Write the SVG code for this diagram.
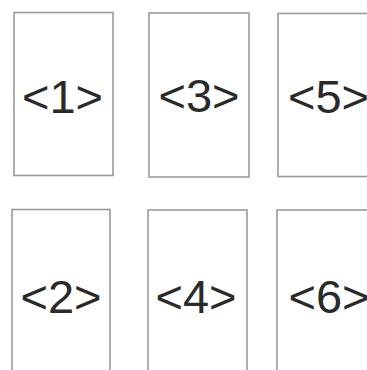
<svg xmlns="http://www.w3.org/2000/svg" width="367" height="370" viewBox="0 0 367 370">
<style>
.box{fill:#fff;stroke:#9a9a9a;stroke-width:1.6}
.lbl{font-family:"Liberation Sans",Arial,sans-serif;font-size:47px;fill:#2a2a2a;text-anchor:middle}
</style>
<rect width="367" height="370" fill="#fff"/>
<g id="node1"><rect class="box" x="14" y="12.5" width="99" height="163"/><text class="lbl" x="62.5" y="113">&lt;1&gt;</text></g>
<g id="node2"><rect class="box" x="12" y="209.5" width="98" height="170"/><text class="lbl" x="61" y="313">&lt;2&gt;</text></g>
<g id="node3"><rect class="box" x="149" y="13" width="100" height="164"/><text class="lbl" x="199" y="112">&lt;3&gt;</text></g>
<g id="node4"><rect class="box" x="148" y="210" width="99" height="170"/><text class="lbl" x="196" y="313">&lt;4&gt;</text></g>
<g id="node5"><rect class="box" x="278" y="13.5" width="100" height="163"/><text class="lbl" x="328.5" y="113">&lt;5&gt;</text></g>
<g id="node6"><rect class="box" x="277" y="210" width="100" height="170"/><text class="lbl" x="329" y="313">&lt;6&gt;</text></g>
<g id="connectors"></g>
</svg>
